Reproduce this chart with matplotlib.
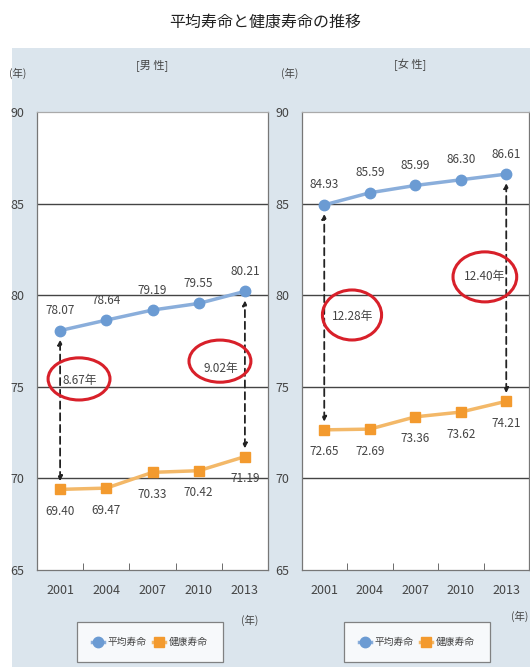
import matplotlib
matplotlib.use("Agg")
import matplotlib.pyplot as plt
from matplotlib.patches import Ellipse, Rectangle

plt.rcParams['font.family'] = ['Noto Sans CJK JP', 'DejaVu Sans']

years = ["2001", "2004", "2007", "2010", "2013"]
male_avg = [78.07, 78.64, 79.19, 79.55, 80.21]
male_healthy = [69.40, 69.47, 70.33, 70.42, 71.19]
female_avg = [84.93, 85.59, 85.99, 86.30, 86.61]
female_healthy = [72.65, 72.69, 73.36, 73.62, 74.21]
male_gaps = ["8.67年", "9.02年"]
female_gaps = ["12.28年", "12.40年"]
yticks = [65, 70, 75, 80, 85, 90]

W, H = 530, 670
fig = plt.figure(figsize=(W / 100, H / 100), dpi=100)

def fx(px):
    return px / W

def fy(py):
    return 1 - py / H

# background panel
bg = Rectangle((fx(12), fy(667)), fx(530) - fx(12), fy(48) - fy(667),
               transform=fig.transFigure, facecolor='#dbe5ed',
               edgecolor='none', zorder=-10)
fig.add_artist(bg)

fig.text(0.5, fy(22), "平均寿命と健康寿命の推移", ha='center', va='center',
         fontsize=11.5, color='#222222')

BLUE_LINE = '#8aaedb'
BLUE_MK = '#6b9bd3'
OR_LINE = '#f3b868'
OR_MK = '#f39a2e'
TXT = '#444444'
RED = '#d8202a'

def panel(left_px, right_px, title, avg, healthy, gaps, ell, unit_x, title_x, legend_cx, nen_xy):
    ax = fig.add_axes([fx(left_px), fy(570), fx(right_px) - fx(left_px), fy(112) - fy(570)])
    ax.set_zorder(1)
    ax.set_facecolor('white')
    x = list(range(len(years)))
    ax.set_xlim(-0.5, len(years) - 0.5)
    ax.set_ylim(65, 90)
    for yv in [70, 75, 80, 85]:
        ax.axhline(yv, color='#444444', lw=1.0, zorder=1)
    ax.plot(x, avg, color=BLUE_LINE, lw=2.5, marker='o', ms=7.5,
            mfc=BLUE_MK, mec=BLUE_MK, zorder=4, label='平均寿命')
    ax.plot(x, healthy, color=OR_LINE, lw=2.5, marker='s', ms=7.5,
            mfc=OR_MK, mec=OR_MK, zorder=4, label='健康寿命')
    for i in x:
        ax.annotate(f"{avg[i]:.2f}", (i, avg[i]), xytext=(0, 20), textcoords='offset pixels',
                    ha='center', va='center', fontsize=8.5, color=TXT, zorder=5)
        ax.annotate(f"{healthy[i]:.2f}", (i, healthy[i]), xytext=(0, -22), textcoords='offset pixels',
                    ha='center', va='center', fontsize=8.5, color=TXT, zorder=5)
    for i in [0, len(years) - 1]:
        ax.annotate('', xy=(i, avg[i] - 0.5), xytext=(i, healthy[i] + 0.45),
                    arrowprops=dict(arrowstyle='<|-|>', color='#222222', lw=1.3,
                                    linestyle=(0, (4, 2.5)), mutation_scale=7,
                                    shrinkA=0, shrinkB=0), zorder=3)
    for (cx, cy, w, h, tx, ty), g in zip(ell, gaps):
        ax.add_patch(Ellipse((cx, cy), w, h, facecolor='none', edgecolor=RED, lw=2.2, zorder=6))
        ax.text(tx, ty, g, ha='center', va='center', fontsize=8.5, color=TXT, zorder=6)
    ax.set_yticks(yticks)
    ax.set_yticklabels([str(v) for v in yticks], fontsize=9, color=TXT)
    ax.tick_params(axis='y', length=0, pad=9)
    ax.set_xticks(x)
    ax.set_xticklabels(years, fontsize=9, color=TXT)
    ax.tick_params(axis='x', length=0, pad=10)
    ax.set_xticks([0.5, 1.5, 2.5, 3.5], minor=True)
    ax.tick_params(axis='x', which='minor', direction='in', length=5, color='#555555')
    for s in ax.spines.values():
        s.set_color('#777777')
        s.set_linewidth(0.9)
    ax.spines['top'].set_color('#aaaaaa')
    fig.text(fx(unit_x), fy(73), "(年)", ha='center', va='center', fontsize=7.5, color=TXT)
    fig.text(fx(title_x), fy(65), title, ha='center', va='center', fontsize=8, color=TXT)
    fig.text(fx(nen_xy[0]), fy(nen_xy[1]), "(年)", ha='center', va='center', fontsize=7.5, color=TXT)
    leg = ax.legend(loc='center', bbox_to_anchor=(fx(legend_cx), fy(642)),
                    bbox_transform=fig.transFigure, ncol=2, frameon=True, fancybox=False,
                    fontsize=7, handlelength=1.2, handletextpad=0.4, columnspacing=0.7,
                    borderpad=1.5, edgecolor='#666666')
    leg.get_frame().set_linewidth(0.9)
    for t in leg.get_texts():
        t.set_color(TXT)
    return ax

panel(37, 268, "[男 性]", male_avg, male_healthy, male_gaps,
      [(0.41, 75.43, 1.34, 2.3, 0.42, 75.35), (3.46, 76.4, 1.34, 2.3, 3.47, 76.0)],
      18, 152, 150, (250, 620))
panel(301.5, 529, "[女 性]", female_avg, female_healthy, female_gaps,
      [(0.61, 78.92, 1.3, 2.73, 0.62, 78.85), (3.53, 81.0, 1.4, 2.73, 3.53, 81.0)],
      290, 410, 417, (520, 616))

fig.savefig("out.png", dpi=100)
